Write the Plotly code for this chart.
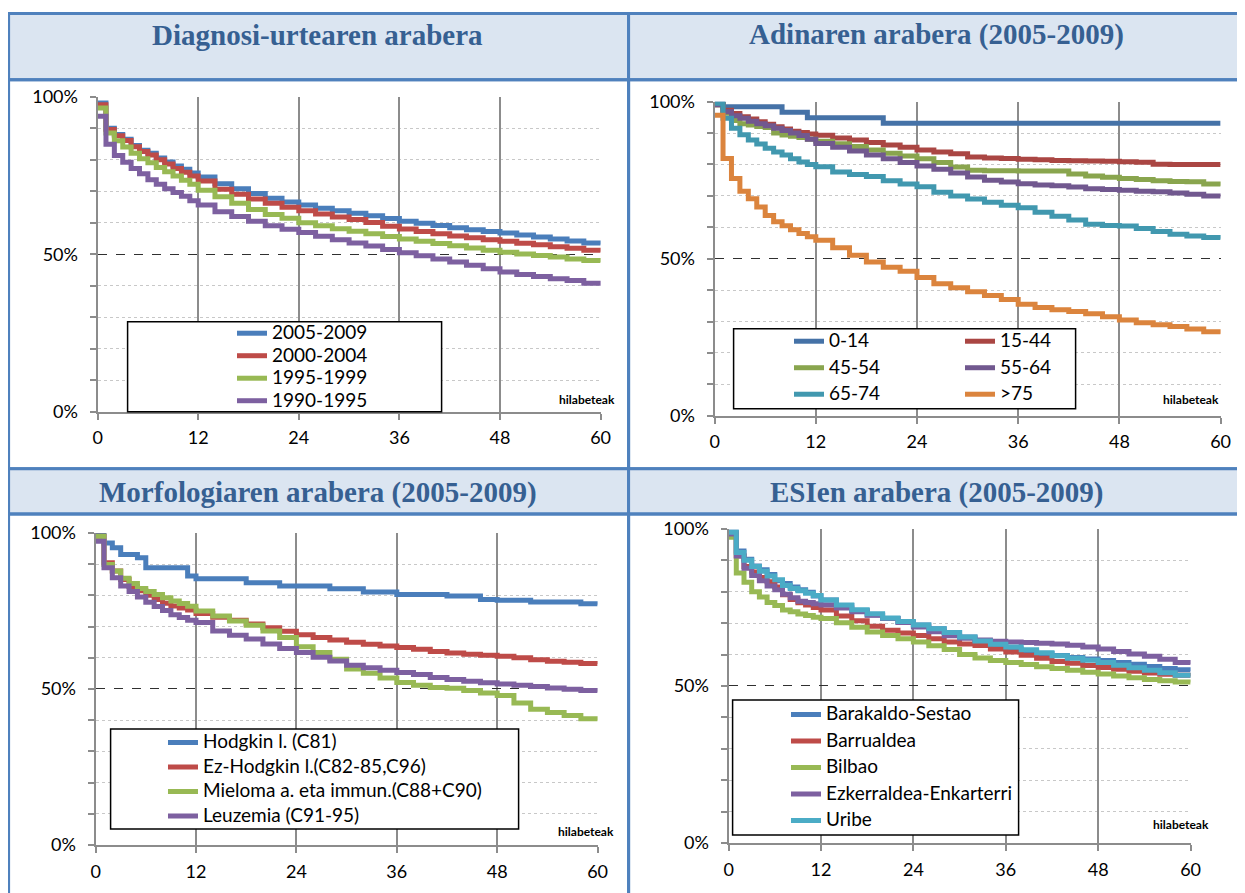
import plotly.graph_objects as go
from plotly.subplots import make_subplots

# figure size; positions below are given in reference-image pixels and
# converted with rx()/ry() (page has an 8px body margin and the capture is
# slightly shrunk, measured from earlier renders)
W, H = 1250, 900

# months at which each Kaplan-Meier step starts
MONTHS = [0, 1, 2, 3, 4, 5, 6, 7, 8, 9, 10, 11, 12,
          14, 16, 18, 20, 22, 24, 26, 28, 30, 32, 34, 36,
          38, 40, 42, 44, 46, 48, 50, 52, 54, 56, 58, 60]

# --- Diagnosi-urtearen arabera
DIAG_NAMES = ['2005-2009', '2000-2004', '1995-1999', '1990-1995']
DIAG_2005 = [98, 90, 88, 86.5, 84.5, 83, 82, 80.5, 79.3, 78, 77, 75.8, 74.5,
             72.4, 70.8, 69.3, 67.8, 66.6, 65.6, 64.6, 63.8, 63, 62.2, 61.3, 60.5,
             59.8, 59.1, 58.4, 57.8, 57.2, 56.7, 56.1, 55.5, 54.8, 54.2, 53.6, 53.1]
DIAG_2000 = [97.4, 89.6, 87.6, 86.1, 84.1, 82.6, 81.5, 80, 78.6, 77.2, 76, 74.8, 73.2,
             70.6, 69, 67.5, 66.2, 64.9, 63.8, 62.8, 61.8, 61, 60.1, 58.9, 58,
             57.2, 56.5, 55.8, 55.2, 54.6, 54.1, 53.5, 53, 52.4, 51.9, 51.3, 50.8]
DIAG_1995 = [96.4, 88.5, 86, 84, 82, 80.3, 79, 77.5, 76.2, 74.8, 73.5, 72.2, 70.3,
             68.2, 66.2, 64.2, 62.6, 61.4, 60, 59, 58.1, 57.3, 56.5, 55.6, 54.8,
             54.1, 53.4, 52.7, 52, 51.3, 50.6, 50.1, 49.6, 49.1, 48.5, 48, 47.5]
DIAG_1990 = [93.8, 84.9, 81.3, 79.2, 77.2, 75.5, 73.6, 72.2, 70.8, 69.6, 68.4, 67, 65.6,
             63.5, 62, 60.5, 59, 57.9, 56.9, 55.7, 54.6, 53.6, 52.6, 51.5, 50.5,
             49.5, 48.5, 47.5, 46.5, 45.4, 44.4, 43.6, 42.9, 42.2, 41.7, 40.8, 40]

# --- Adinaren arabera (2005-2009)
AGE_NAMES = ['0-14', '15-44', '45-54', '55-64', '65-74', '>75']
AGE_0_14 = [100, 98.4, 98.4, 98.4, 98.4, 98.4, 98.4, 98.4, 96.6, 96.6, 96.6, 94.9, 94.9,
            94.9, 94.9, 94.9, 93.1, 93.1, 93.1, 93.1, 93.1, 93.1, 93.1, 93.1, 93.1,
            93.1, 93.1, 93.1, 93.1, 93.1, 93.1, 93.1, 93.1, 93.1, 93.1, 93.1, 93.1]
AGE_15_44 = [99, 97.3, 96.2, 95.2, 94.5, 93.6, 92.8, 92, 91.3, 90.6, 90.2, 89.7, 89.3,
             88.4, 87.8, 87, 86.2, 85.5, 84.6, 84, 83.4, 82.4, 82.1, 81.9, 81.7,
             81.5, 81.3, 81.2, 81.1, 81, 80.9, 80.7, 80.1, 80, 80, 80, 80]
AGE_45_54 = [99, 96.3, 94, 93, 92.6, 92.1, 91.8, 90, 89.4, 89, 88.6, 88, 87.4,
             86.6, 85.7, 84.6, 83.6, 82.7, 81.8, 80.6, 79.2, 78.2, 78, 78, 77.9,
             77.9, 77.9, 77, 76.3, 75.9, 75.5, 75.2, 74.8, 74.6, 74.5, 73.8, 73.2]
AGE_55_64 = [99, 96.8, 95.5, 94.7, 93.8, 93, 92.3, 91.5, 90.8, 90, 89.2, 88, 86.7,
             85.5, 84.3, 83, 81.8, 80.6, 79.5, 78.5, 77.3, 76, 75, 74.4, 73.9,
             73.5, 73.2, 72.8, 72.3, 72, 71.8, 71.5, 71.3, 70.9, 70.5, 70, 69.7]
AGE_65_74 = [99.5, 94.7, 91.5, 89.5, 87.8, 86.5, 85.2, 84, 83, 81.8, 80.8, 80, 79.3,
             77.6, 76.8, 76.2, 74.8, 73.8, 72.9, 71.2, 70, 69, 68, 67, 66.2,
             64.8, 63.5, 62.3, 61, 60.6, 60.4, 59.6, 58.7, 57.8, 57.2, 56.8, 56.4]
AGE_75 = [95.7, 81.9, 75.5, 71.5, 69.1, 66.5, 63.8, 61.8, 60.5, 59.2, 58, 57, 55.9,
          53.5, 51.1, 49, 47.3, 46, 44, 42, 40.8, 39.5, 38.3, 37, 35.5,
          34.5, 33.8, 33.2, 32.5, 31.5, 30.5, 29.6, 29, 28.4, 27.6, 26.8, 26.1]

# --- Morfologiaren arabera (2005-2009)
MORF_NAMES = ['Hodgkin l. (C81)', 'Ez-Hodgkin l.(C82-85,C96)',
              'Mieloma a. eta immun.(C88+C90)', 'Leuzemia (C91-95)']
MORF_HODGKIN = [99.5, 96.8, 95.2, 93.1, 93.1, 92, 88.8, 88.8, 88.8, 88.8, 88.8, 86.2, 85.3,
                85.3, 85.3, 84, 84, 83, 83, 83, 82.1, 82.1, 81.1, 81.1, 80.3,
                80.3, 80.3, 79.8, 79.8, 78.7, 78.4, 78.4, 77.9, 77.9, 77.9, 77.3, 77]
MORF_EZHODGKIN = [98.9, 90.4, 87.8, 85.1, 82.8, 81.5, 80, 78.7, 77.5, 76.6, 75.9, 75.3, 74.2,
                  73, 72, 70.8, 69.6, 68.5, 67.4, 66.5, 65.7, 65, 64.3, 63.8, 63.3,
                  62.7, 62, 61.5, 61.1, 60.8, 60.5, 60, 59.4, 58.9, 58.6, 58.2, 58]
MORF_MIELOMA = [98.9, 89.9, 87.8, 85.5, 83.8, 82.2, 81.2, 80.3, 79.2, 78.2, 77.4, 76.5, 75,
                73.4, 71.8, 70.4, 68.6, 66.5, 63.5, 61.7, 59.5, 56.4, 55, 53.5, 52.1,
                51.2, 50.5, 50.2, 49.5, 48.7, 47.9, 45.5, 43.5, 42.5, 41.5, 40.5, 39.9]
MORF_LEUZEMIA = [97.3, 88.8, 85.6, 83, 81.2, 79.5, 77.8, 76.4, 75.1, 73.8, 72.9, 72, 71.3,
                 68.6, 67.2, 66, 64.4, 63, 61.7, 60.2, 59, 57.6, 56.8, 56, 55.3,
                 54.6, 53.7, 53, 52.5, 52, 51.6, 51.2, 50.8, 50.3, 49.9, 49.5, 49.1]

# --- ESIen arabera (2005-2009)
ESI_NAMES = ['Barakaldo-Sestao', 'Barrualdea', 'Bilbao', 'Ezkerraldea-Enkarterri', 'Uribe']
ESI_BARAKALDO = [98.9, 93, 90.3, 88.2, 87, 85.5, 83.5, 82.6, 81.5, 80.6, 79.8, 78.6, 77.4,
                 75.6, 74, 72.6, 71.5, 70.4, 69.4, 68.2, 67, 65.6, 64.4, 63, 61.8,
                 61, 60.3, 59.7, 59.1, 58.6, 58.1, 57.5, 56.9, 56.2, 55.6, 55.2, 54.8]
ESI_BARRUALDEA = [98.4, 91.4, 88, 86.3, 84.5, 83.2, 81.5, 79, 77.5, 76.5, 75.8, 75, 74.2,
                  72.3, 70.8, 69, 67.7, 66.9, 66.1, 65, 64, 63.4, 62.9, 61.8, 60.8,
                  59.8, 58.8, 57.8, 57.2, 56.5, 55.9, 55.3, 54.7, 54.1, 53.7, 53.4, 53.2]
ESI_BILBAO = [97.3, 86, 83, 80, 78.3, 76.6, 75.6, 74.2, 73.6, 72.9, 72.4, 71.9, 71.5,
              70.1, 68.7, 67.2, 66.1, 65, 64, 62.8, 61.6, 60, 58.9, 58.1, 57.5,
              56.8, 56.1, 55.6, 55, 54.4, 53.8, 53.2, 52.6, 52.1, 51.7, 51.3, 51.1]
ESI_EZKERRALDEA = [98.4, 91.4, 87.5, 85.2, 83.5, 81.8, 80.6, 79.2, 78.1, 77, 76.6, 76.2, 75.8,
                   74.8, 73.6, 72.5, 71.5, 70.2, 68.8, 67.3, 66, 65.2, 64.6, 64.2, 64,
                   63.8, 63.6, 63.4, 63, 62.4, 61.8, 61, 60.2, 59.5, 58.5, 57.5, 57]
ESI_URIBE = [98.9, 92.5, 90, 88, 86.5, 85, 83.8, 82, 81, 80.3, 79.5, 78.8, 77.4,
             75.8, 74.3, 73, 71.6, 70.5, 69.4, 68.2, 67, 65.6, 64.3, 63.3, 62.4,
             61.5, 60.6, 59.6, 58.8, 58.2, 57.5, 56.6, 55.8, 55, 54.2, 53.4, 52.7]

TITLES = ['Diagnosi-urtearen arabera', 'Adinaren arabera (2005-2009)',
          'Morfologiaren arabera (2005-2009)', 'ESIen arabera (2005-2009)']

COL_LIGHT = ['#4A7EBB', '#BE4B48', '#98B954', '#7D60A0', '#4BACC6']
COL_DARK = ['#4572A7', '#AA4643', '#89A54E', '#71588F', '#4198AF', '#DB843D']

FONT = 'Lato'
BORDER = '#4F81BD'
HEAD_FILL = '#DBE5F1'
HEAD_TEXT = '#366092'
GRID = '#8C8C8C'


def rx(x):
    # reference pixel -> paper x
    return ((x - 4.5) / 0.988 - 8) / W


def ry(y):
    # reference pixel -> paper y
    return 1 - ((y - 10.6) / 0.975 - 8) / H


fig = make_subplots(rows=2, cols=2)

panels = [
    (1, 1, DIAG_NAMES, [DIAG_2005, DIAG_2000, DIAG_1995, DIAG_1990], COL_LIGHT,
     ['legend'] * 4),
    (1, 2, AGE_NAMES, [AGE_0_14, AGE_15_44, AGE_45_54, AGE_55_64, AGE_65_74, AGE_75], COL_DARK,
     ['legend2', 'legend3', 'legend2', 'legend3', 'legend2', 'legend3']),
    (2, 1, MORF_NAMES, [MORF_HODGKIN, MORF_EZHODGKIN, MORF_MIELOMA, MORF_LEUZEMIA], COL_LIGHT,
     ['legend4'] * 4),
    (2, 2, ESI_NAMES, [ESI_BARAKALDO, ESI_BARRUALDEA, ESI_BILBAO, ESI_EZKERRALDEA, ESI_URIBE],
     COL_LIGHT, ['legend5'] * 5),
]

for row, col, names, series, colors, legends in panels:
    for i, (name, vals) in enumerate(zip(names, series)):
        fig.add_trace(go.Scatter(
            x=MONTHS, y=vals, mode='lines',
            name=f'<span style="font-size:19px">{name}</span>',
            line=dict(color=colors[i], width=5, shape='hv'),
            legend=legends[i], legendgroup=f'{row}{col}{i}',
            hovertemplate='%{x} hil.: %{y}%<extra>' + name + '</extra>'
        ), row=row, col=col)

fig.update_xaxes(
    range=[0, 60], tickmode='linear', tick0=0, dtick=12,
    showgrid=True, gridcolor=GRID, gridwidth=2,
    showline=True, linecolor=GRID, linewidth=2,
    ticks='outside', ticklen=6, tickwidth=2, tickcolor=GRID,
    ticklabelstandoff=3, zeroline=False,
    tickfont=dict(family=FONT, size=18, color='black'),
)
fig.update_yaxes(
    range=[0, 100], tickmode='linear', tick0=0, dtick=50, ticksuffix='%',
    showgrid=True, gridcolor='#303030', gridwidth=1, griddash='dash',
    showline=True, linecolor=GRID, linewidth=2,
    ticks='outside', ticklen=6, tickwidth=2, tickcolor=GRID,
    ticklabelstandoff=8, zeroline=False,
    tickfont=dict(family=FONT, size=18, color='black'),
    minor=dict(dtick=10, ticks='outside', ticklen=6, tickwidth=2, tickcolor=GRID,
               showgrid=True, gridcolor='#C8C8C8', griddash='dot', gridwidth=1),
)

# plot areas, in reference pixels: (x0, x1, y0, y1)
areas = {
    '': (97, 600, 95, 410),
    '2': (714, 1220, 100, 414),
    '3': (95, 597, 531, 843),
    '4': (728, 1190, 527, 841),
}
for k, (x0, x1, y0, y1) in areas.items():
    fig.layout['xaxis' + k].domain = [rx(x0), rx(x1)]
    fig.layout['yaxis' + k].domain = [ry(y1), ry(y0)]

shapes = []
# panel frames and header bands
for (x0, x1) in [(8, 628), (628, 1241)]:
    for (y0, y1, fill) in [(12, 78, HEAD_FILL), (78, 467, None), (467, 512, HEAD_FILL),
                           (512, 900, None)]:
        shapes.append(dict(type='rect', xref='paper', yref='paper', layer='below',
                           x0=rx(x0), x1=rx(x1), y0=ry(y1), y1=ry(y0),
                           fillcolor=fill if fill else 'rgba(0,0,0,0)',
                           line=dict(color=BORDER, width=3)))
# legend boxes
for (x0, y0, x1, y1) in [(127, 320, 441, 410), (733, 327, 1075, 407),
                         (110, 727, 518, 827), (732, 698, 1018, 833)]:
    shapes.append(dict(type='rect', xref='paper', yref='paper', layer='above',
                       x0=rx(x0), x1=rx(x1), y0=ry(y1), y1=ry(y0),
                       fillcolor='white', line=dict(color='black', width=1.5)))

annotations = []
for title, (cx, cy) in zip(TITLES, [(317, 33), (936, 33), (317, 491), (936, 491)]):
    annotations.append(dict(text=f'<b>{title}</b>', x=rx(cx), y=ry(cy), xref='paper', yref='paper',
                            showarrow=False, xanchor='center', yanchor='middle',
                            font=dict(family='Liberation Serif', size=29, color=HEAD_TEXT)))
for (x, y) in [(618, 398), (1222, 398), (617, 829), (1212, 822)]:
    annotations.append(dict(text='<b>hilabeteak</b>', x=rx(x), y=ry(y), xref='paper', yref='paper',
                            showarrow=False, xanchor='right', yanchor='middle', bgcolor='white',
                            borderpad=3, font=dict(family=FONT, size=12, color='black')))

leg_style = dict(xanchor='left', yanchor='top', bgcolor='rgba(0,0,0,0)', borderwidth=0,
                 font=dict(family=FONT, size=15, color='black'), itemclick=False,
                 itemdoubleclick=False)
fig.update_layout(
    width=W, height=H,
    margin=dict(l=0, r=0, t=0, b=0),
    paper_bgcolor='white', plot_bgcolor='white',
    shapes=shapes, annotations=annotations,
    legend=dict(x=rx(231.4), y=ry(315.2), tracegroupgap=0, **leg_style),
    legend2=dict(x=rx(788.4), y=ry(323.2), tracegroupgap=4, **leg_style),
    legend3=dict(x=rx(959.4), y=ry(323.2), tracegroupgap=4, **leg_style),
    legend4=dict(x=rx(162.4), y=ry(724.2), tracegroupgap=2, **leg_style),
    legend5=dict(x=rx(785.4), y=ry(696.2), tracegroupgap=4, **leg_style),
)

fig.write_html('out.html')
